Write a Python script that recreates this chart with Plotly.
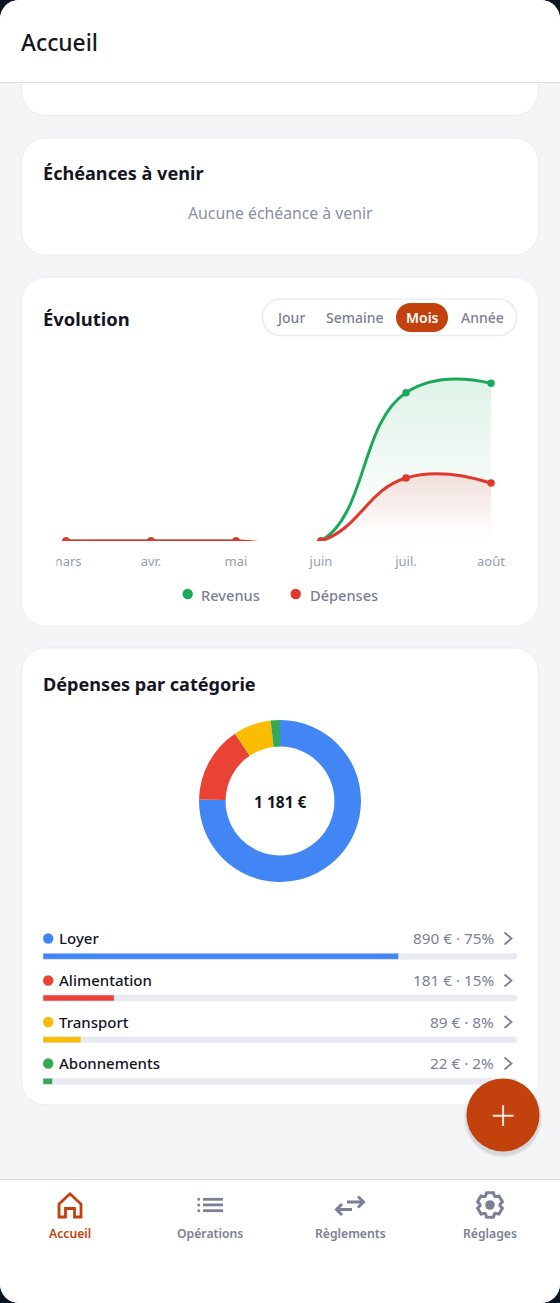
import math
import plotly.graph_objects as go

W, H = 560, 1303
FONT = "Noto Sans"

months = ["mars", "avr.", "mai", "juin", "juil.", "août"]
revenus = [0, 0, 0, 0, 3020, 3210]
depenses = [0, 0, 0, 0, 1283, 1181]

categories = ["Loyer", "Alimentation", "Transport", "Abonnements"]
amounts = [890, 181, 89, 22]
shares = [75, 15, 8, 2]
total_label = "1 181 €"
cat_colors = ["#4285F4", "#EA4335", "#FBBC04", "#34A853"]
periods = ["Jour", "Semaine", "Mois", "Année"]
nav_items = ["Accueil", "Opérations", "Règlements", "Réglages"]

GREEN, RED, ORANGE = "#1AA85A", "#E0382C", "#C2410C"
GRAY, INK, BORDER = "#7B8094", "#14161F", "#E9EBF0"


def X(p):
    return p / W


def Y(p):
    return 1 - p / H


def path(cmds):
    out = []
    for c in cmds:
        if c[0] == "Z":
            out.append("Z")
        else:
            pts = c[1:]
            s = " ".join(f"{X(pts[i]):.5f},{Y(pts[i+1]):.5f}" for i in range(0, len(pts), 2))
            out.append(c[0] + s)
    return " ".join(out)


def rrect(x0, y0, x1, y1, r, top=True, bottom=True):
    k = r * 0.45
    c = []
    if top:
        c += [("M", x0, y0 + r), ("C", x0, y0 + k, x0 + k, y0, x0 + r, y0), ("L", x1 - r, y0),
              ("C", x1 - k, y0, x1, y0 + k, x1, y0 + r)]
    else:
        c += [("M", x0, y0), ("L", x1, y0)]
    if bottom:
        c += [("L", x1, y1 - r), ("C", x1, y1 - k, x1 - k, y1, x1 - r, y1), ("L", x0 + r, y1),
              ("C", x0 + k, y1, x0, y1 - k, x0, y1 - r)]
    else:
        c += [("L", x1, y1), ("L", x0, y1)]
    c.append(("Z",))
    return path(c)


shapes = []


def add_path(d, fill=None, line=None, lw=0, layer="below"):
    s = dict(type="path", xref="paper", yref="paper", path=d, layer=layer,
             line=dict(color=line or "rgba(0,0,0,0)", width=lw))
    if fill:
        s["fillcolor"] = fill
    shapes.append(s)


def add_circle(cx, cy, r, fill, layer="below"):
    shapes.append(dict(type="circle", xref="paper", yref="paper", x0=X(cx - r), x1=X(cx + r),
                       y0=Y(cy + r), y1=Y(cy - r), fillcolor=fill, line=dict(width=0), layer=layer))


annots = []


def text(s, x, y, size, color, weight=400, anchor="left"):
    annots.append(dict(text=s, x=X(x), y=Y(y), xref="paper", yref="paper", showarrow=False,
                       xanchor=anchor, yanchor="middle", borderpad=0, borderwidth=0,
                       font=dict(family=FONT, size=size, color=color, weight=weight)))


# Screen frame
add_path(rrect(0, 0, W, H, 19), fill="#FFFFFF")
shapes.append(dict(type="rect", xref="paper", yref="paper", x0=0, x1=1, y0=Y(1180), y1=Y(83),
                   fillcolor="#F4F5F7", line=dict(width=0), layer="below"))
# Cards
add_path(rrect(21.5, 70, 538.5, 115.5, 24, top=False), fill="#FFFFFF", line=BORDER, lw=1)
add_path(rrect(0, 0, W, 82, 19, bottom=False), fill="#FFFFFF")
shapes.append(dict(type="line", xref="paper", yref="paper", x0=0, x1=1, y0=Y(82.5), y1=Y(82.5),
                   line=dict(color="#DCDEE3", width=1), layer="below"))
add_path(rrect(21.5, 138, 538.5, 255, 24), fill="#FFFFFF", line=BORDER, lw=1)
add_path(rrect(21.5, 277, 538.5, 626, 24), fill="#FFFFFF", line=BORDER, lw=1)
add_path(rrect(21.5, 648, 538.5, 1105, 24), fill="#FFFFFF", line=BORDER, lw=1)

# Header + titles
text("Accueil", 21, 42.5, 22.8, INK, 500)
text("Échéances à venir", 43, 172.5, 18.1, INK, 700)
text("Aucune échéance à venir", 280, 213, 15.8, "#8A8FA3", 400, "center")
text("Évolution", 43, 318.5, 18.4, INK, 700)
text("Dépenses par catégorie", 43, 683.5, 18.1, INK, 700)

# Period toggle
add_path(rrect(262.5, 299, 516.5, 335.5, 18), fill="#FFFFFF", line=BORDER, lw=1.5)
add_path(rrect(396, 303, 448, 332, 14.5), fill=ORANGE)
for label, cx in zip(periods, [290, 355, 422, 482]):
    active = label == "Mois"
    text(label, cx, 317.5, 14, "#FFFFFF" if active else GRAY, 600 if active else 500, "center")

# Chart legend
add_circle(187.7, 594, 5.2, GREEN)
add_circle(295.7, 594, 5.2, RED)
text("Revenus", 201, 595, 14.6, GRAY, 500)
text("Dépenses", 310, 595, 14.6, GRAY, 500)

# Clip of the first tick label
shapes.append(dict(type="rect", xref="paper", yref="paper", x0=X(44), x1=X(56.5), y0=Y(572), y1=Y(550),
                   fillcolor="#FFFFFF", line=dict(width=0), layer="above"))

# Donut centre
text(total_label, 280, 802, 15.5, INK, 700, "center")

# Category rows
row_y = [938.5, 980.5, 1022, 1063.5]
for name, amt, pct, col, y in zip(categories, amounts, shares, cat_colors, row_y):
    add_circle(48.2, y, 5.2, col)
    text(name, 58.5, y - 0.5, 15, INK, 500)
    text(f"{amt} € · {pct}%", 493.5, y - 0.5, 15.3, GRAY, 400, "right")
    add_path(path([("M", 504.5, y - 6), ("L", 511.5, y), ("L", 504.5, y + 6)]), line=GRAY, lw=1.8)

# Floating button
for r, a in [(39.5, 0.03), (38.5, 0.04), (37.5, 0.05)]:
    add_circle(503, 1118, r, f"rgba(0,0,0,{a})", "above")
add_circle(503, 1115, 36.5, ORANGE, "above")
add_path(path([("M", 492.7, 1115.7), ("L", 513.5, 1115.7), ("M", 503.1, 1105.3), ("L", 503.1, 1126.1)]),
         line="#FFE9DF", lw=2, layer="above")

# Bottom navigation
add_path(rrect(0, 1180, W, H, 19, top=False), fill="#FFFFFF")
shapes.append(dict(type="line", xref="paper", yref="paper", x0=0, x1=1, y0=Y(1179.5), y1=Y(1179.5),
                   line=dict(color="#D8DADF", width=1), layer="below"))
for label, cx in zip(nav_items, [70, 210, 350, 490]):
    text(label, cx, 1233, 12.2, ORANGE if label == "Accueil" else GRAY, 600, "center")

add_path(path([("M", 59, 1204), ("L", 70, 1193.8), ("L", 81, 1204), ("L", 81, 1217), ("L", 74.5, 1217),
               ("L", 74.5, 1208.5), ("L", 65.5, 1208.5), ("L", 65.5, 1217), ("L", 59, 1217), ("Z",)]),
         line=ORANGE, lw=2.8)
for yy in [1199.3, 1204.9, 1210.7]:
    add_path(path([("M", 203, yy), ("L", 223, yy)]), line=GRAY, lw=2.8)
    add_circle(198.8, yy, 1.5, GRAY)
add_path(path([("M", 347, 1202), ("L", 363, 1202), ("M", 358, 1196.5), ("L", 363.5, 1202), ("L", 358, 1207.5)]),
         line=GRAY, lw=3)
add_path(path([("M", 352, 1209.5), ("L", 337, 1209.5), ("M", 342, 1204), ("L", 336.5, 1209.5), ("L", 342, 1215)]),
         line=GRAY, lw=3)
# Gear icon outline
gear = []
for i in range(6):
    a = math.radians(60 * i)
    for off, rad in [(-0.46, 10), (-0.27, 12.8), (0.27, 12.8), (0.46, 10)]:
        gx, gy = 490 + rad * math.sin(a + off), 1205 - rad * math.cos(a + off)
        gear.append(("M" if not gear else "L", gx, gy))
gear.append(("Z",))
add_path(path(gear), line=GRAY, lw=3)
add_circle(490, 1205, 4.8, GRAY)

fig = go.Figure()

# Line chart: category axis spaced 85 px, baseline at y=541 px
step_px = 85
px_per_value = 58 / depenses[-1]
for name, vals, col, rgb, top in [("Revenus", revenus, GREEN, "26,168,90", 0.14),
                                  ("Dépenses", depenses, RED, "224,56,44", 0.13)]:
    fig.add_trace(go.Scatter(
        x=months, y=vals, name=name, mode="lines+markers", cliponaxis=True,
        line=dict(color=col, width=3, shape="spline", smoothing=1.3),
        marker=dict(color=col, size=7.5),
        fill="tozeroy", fillcolor="rgba(0,0,0,0)",
        fillgradient=dict(type="vertical", start=0, stop=max(vals),
                          colorscale=[[0, f"rgba({rgb},0)"], [0.15, f"rgba({rgb},0.01)"], [1, f"rgba({rgb},{top})"]]),
        showlegend=False, xaxis="x", yaxis="y",
    ))

# Donut
fig.add_trace(go.Pie(
    labels=categories, values=amounts, hole=0.672, sort=False, direction="clockwise", rotation=0,
    marker=dict(colors=cat_colors, line=dict(width=0)), textinfo="none", showlegend=False,
    domain=dict(x=[X(199), X(361)], y=[Y(882), Y(720)]),
))

# Category progress bars
fig.add_trace(go.Bar(y=categories, x=[100] * len(categories), orientation="h", marker=dict(color="#E8EAEF"),
                     showlegend=False, xaxis="x2", yaxis="y2", hoverinfo="skip"))
fig.add_trace(go.Bar(y=categories, x=shares, orientation="h", marker=dict(color=cat_colors),
                     showlegend=False, xaxis="x2", yaxis="y2"))

fig.update_layout(
    width=W, height=H, margin=dict(l=0, r=0, t=0, b=0, pad=0), autosize=False,
    paper_bgcolor="#0B1420", plot_bgcolor="rgba(0,0,0,0)",
    font=dict(family=FONT), shapes=shapes, annotations=annots,
    barmode="overlay", bargap=1 - 6 / 41.67, barcornerradius=3,
    xaxis=dict(domain=[X(57), X(517)], type="category", categoryorder="array", categoryarray=months,
               range=[-(66 - 57) / step_px, 5 + (517 - 491) / step_px], showgrid=False, zeroline=False,
               showline=False, ticks="", ticklabelstandoff=11, tickangle=0, automargin=False,
               tickfont=dict(family=FONT, size=13, color="#989DAE"), anchor="y"),
    yaxis=dict(domain=[Y(541), Y(350)], range=[0, 191 / px_per_value], visible=False, anchor="x", automargin=False),
    xaxis2=dict(domain=[X(43), X(517)], range=[0, 100], visible=False, anchor="y2", automargin=False),
    yaxis2=dict(domain=[Y(1102.2), Y(935.5)], type="category", autorange="reversed", visible=False, anchor="x2",
                automargin=False),
)

fig.write_html("out.html", config=dict(displayModeBar=False),
               post_script="document.body.style.margin='0';document.body.style.overflow='hidden';")
